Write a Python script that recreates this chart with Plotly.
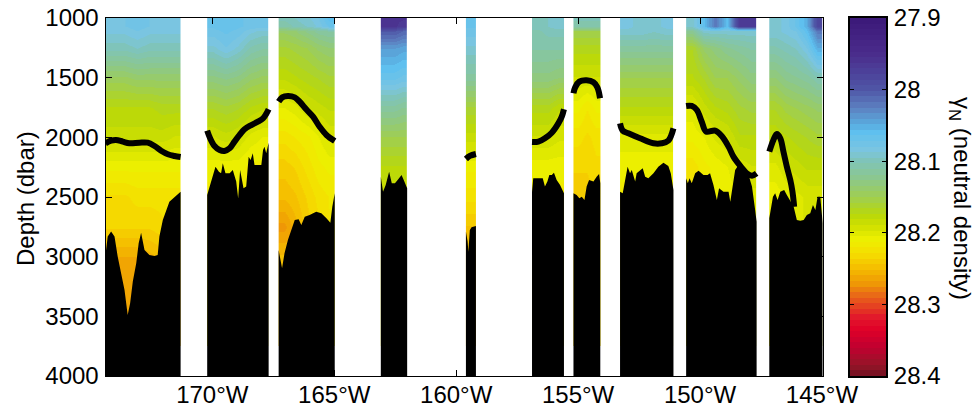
import plotly.graph_objects as go
import numpy as np

depth_levels = [1000, 1070, 1110, 1250, 1500, 1750, 2000, 2250, 2500, 2750, 3000, 3500]

seg_bounds = [(-174.38, -171.30), (-170.21, -167.69), (-167.28, -164.98), (-163.09, -162.01), (-159.60, -159.19),
              (-156.89, -155.58), (-155.19, -154.09), (-153.28, -151.09), (-150.57, -147.68), (-147.16, -144.97)]

density_1 = [
    [28.085, 28.08, 28.075, 28.08, 28.085, 28.08],
    [28.085, 28.08, 28.075, 28.08, 28.085, 28.08],
    [28.085, 28.085, 28.08, 28.085, 28.085, 28.085],
    [28.10, 28.10, 28.095, 28.10, 28.10, 28.10],
    [28.145, 28.145, 28.14, 28.14, 28.14, 28.14],
    [28.175, 28.175, 28.175, 28.175, 28.17, 28.17],
    [28.185, 28.185, 28.185, 28.185, 28.185, 28.19],
    [28.21, 28.21, 28.21, 28.21, 28.21, 28.21],
    [28.23, 28.23, 28.225, 28.225, 28.225, 28.225],
    [28.235, 28.235, 28.235, 28.235, 28.23, 28.23],
    [28.26, 28.26, 28.26, 28.255, 28.25, 28.24],
    [28.265, 28.265, 28.265, 28.26, 28.25, 28.25],
]
density_2 = [
    [28.07, 28.065, 28.07, 28.075, 28.075],
    [28.07, 28.065, 28.07, 28.075, 28.075],
    [28.075, 28.07, 28.075, 28.085, 28.09],
    [28.09, 28.08, 28.09, 28.105, 28.11],
    [28.13, 28.125, 28.13, 28.14, 28.145],
    [28.165, 28.16, 28.165, 28.175, 28.18],
    [28.19, 28.185, 28.19, 28.20, 28.205],
    [28.21, 28.21, 28.21, 28.215, 28.215],
    [28.215, 28.215, 28.215, 28.22, 28.22],
    [28.22, 28.22, 28.22, 28.22, 28.22],
    [28.22, 28.22, 28.22, 28.22, 28.22],
    [28.22, 28.22, 28.22, 28.22, 28.22],
]
density_3 = [
    [28.10, 28.095, 28.09, 28.08, 28.06],
    [28.11, 28.10, 28.095, 28.085, 28.07],
    [28.14, 28.135, 28.125, 28.115, 28.11],
    [28.16, 28.155, 28.15, 28.14, 28.135],
    [28.18, 28.175, 28.17, 28.165, 28.16],
    [28.205, 28.20, 28.19, 28.185, 28.18],
    [28.225, 28.22, 28.215, 28.205, 28.195],
    [28.24, 28.235, 28.225, 28.215, 28.21],
    [28.25, 28.245, 28.235, 28.225, 28.22],
    [28.27, 28.255, 28.24, 28.23, 28.22],
    [28.25, 28.25, 28.24, 28.23, 28.22],
    [28.25, 28.25, 28.24, 28.23, 28.22],
]
density_4 = [
    [27.96, 27.96, 27.96],
    [27.96, 27.96, 27.97],
    [28.00, 28.00, 28.01],
    [28.04, 28.04, 28.045],
    [28.07, 28.07, 28.075],
    [28.115, 28.115, 28.12],
    [28.15, 28.15, 28.15],
    [28.175, 28.175, 28.175],
    [28.19, 28.19, 28.19],
    [28.20, 28.20, 28.20],
    [28.20, 28.20, 28.20],
    [28.20, 28.20, 28.20],
]
density_5 = [
    [28.07, 28.07],
    [28.07, 28.07],
    [28.075, 28.075],
    [28.09, 28.09],
    [28.115, 28.115],
    [28.16, 28.16],
    [28.185, 28.185],
    [28.21, 28.21],
    [28.225, 28.225],
    [28.245, 28.245],
    [28.25, 28.25],
    [28.25, 28.25],
]
density_6 = [
    [28.10, 28.095, 28.09],
    [28.10, 28.095, 28.09],
    [28.105, 28.10, 28.10],
    [28.11, 28.11, 28.11],
    [28.13, 28.13, 28.135],
    [28.17, 28.17, 28.18],
    [28.19, 28.19, 28.195],
    [28.21, 28.21, 28.21],
    [28.215, 28.215, 28.215],
    [28.215, 28.215, 28.215],
    [28.215, 28.215, 28.215],
    [28.215, 28.215, 28.215],
]
density_7 = [
    [28.10, 28.10, 28.10],
    [28.11, 28.11, 28.11],
    [28.15, 28.15, 28.15],
    [28.17, 28.17, 28.17],
    [28.19, 28.19, 28.19],
    [28.21, 28.22, 28.21],
    [28.225, 28.23, 28.225],
    [28.235, 28.235, 28.23],
    [28.24, 28.24, 28.235],
    [28.24, 28.24, 28.235],
    [28.24, 28.24, 28.235],
    [28.24, 28.24, 28.235],
]
density_8 = [
    [28.085, 28.09, 28.09, 28.085],
    [28.085, 28.09, 28.09, 28.085],
    [28.09, 28.09, 28.095, 28.09],
    [28.115, 28.115, 28.115, 28.115],
    [28.15, 28.15, 28.15, 28.15],
    [28.175, 28.175, 28.175, 28.175],
    [28.20, 28.20, 28.20, 28.20],
    [28.21, 28.21, 28.21, 28.21],
    [28.215, 28.215, 28.215, 28.215],
    [28.215, 28.215, 28.215, 28.215],
    [28.215, 28.215, 28.215, 28.215],
    [28.215, 28.215, 28.215, 28.215],
]
density_9 = [
    [28.09, 28.06, 28.02, 28.06, 27.97, 27.97],
    [28.09, 28.06, 28.02, 28.06, 27.97, 27.97],
    [28.12, 28.09, 28.09, 28.09, 28.09, 28.09],
    [28.165, 28.14, 28.13, 28.12, 28.115, 28.11],
    [28.175, 28.165, 28.15, 28.15, 28.14, 28.13],
    [28.20, 28.185, 28.175, 28.17, 28.16, 28.155],
    [28.21, 28.205, 28.195, 28.19, 28.175, 28.175],
    [28.225, 28.215, 28.21, 28.205, 28.195, 28.19],
    [28.22, 28.215, 28.21, 28.21, 28.205, 28.20],
    [28.22, 28.215, 28.21, 28.21, 28.205, 28.20],
    [28.22, 28.215, 28.21, 28.21, 28.205, 28.20],
    [28.22, 28.215, 28.21, 28.21, 28.205, 28.20],
]
density_10 = [
    [28.09, 28.085, 28.07, 28.05, 27.98],
    [28.09, 28.085, 28.07, 28.05, 27.98],
    [28.09, 28.085, 28.08, 28.06, 28.02],
    [28.105, 28.10, 28.095, 28.08, 28.05],
    [28.135, 28.125, 28.12, 28.115, 28.105],
    [28.165, 28.155, 28.15, 28.145, 28.14],
    [28.18, 28.175, 28.17, 28.165, 28.16],
    [28.20, 28.19, 28.185, 28.18, 28.18],
    [28.21, 28.205, 28.20, 28.195, 28.195],
    [28.21, 28.205, 28.20, 28.195, 28.195],
    [28.21, 28.205, 28.20, 28.195, 28.195],
    [28.21, 28.205, 28.20, 28.195, 28.195],
]
density_segments = [density_1, density_2, density_3, density_4, density_5,
                    density_6, density_7, density_8, density_9, density_10]

bathy_lon_1 = [-174.38, -174.29, -174.15, -174.01, -173.88, -173.74, -173.60, -173.47, -173.37, -173.26, -173.12, -173.02, -172.92, -172.78, -172.58, -172.37, -172.24, -172.17, -172.03, -171.76, -171.55, -171.30]
bathy_dep_1 = [2986, 2832, 2790, 2832, 2999, 3139, 3279, 3489, 3391, 3209, 3056, 2888, 2799, 2944, 2986, 2994, 2986, 2832, 2693, 2539, 2497, 2455]
bathy_lon_2 = [-170.21, -170.11, -169.98, -169.87, -169.73, -169.64, -169.57, -169.46, -169.29, -169.16, -169.02, -168.94, -168.86, -168.72, -168.61, -168.51, -168.43, -168.34, -168.27, -167.99, -167.92, -167.86, -167.79, -167.69]
bathy_dep_2 = [2483, 2413, 2343, 2246, 2288, 2302, 2218, 2302, 2302, 2274, 2371, 2511, 2274, 2427, 2413, 2162, 2190, 2134, 2232, 2232, 2106, 2078, 2134, 2045]
bathy_lon_3 = [-167.28, -167.21, -167.14, -167.04, -166.90, -166.76, -166.62, -166.46, -166.35, -166.21, -166.01, -165.74, -165.53, -165.32, -165.16, -165.08, -164.98]
bathy_dep_3 = [2944, 3028, 3098, 2972, 2860, 2776, 2693, 2687, 2734, 2665, 2651, 2623, 2637, 2679, 2715, 2581, 2469]
bathy_lon_4 = [-163.09, -163.00, -162.89, -162.75, -162.64, -162.51, -162.40, -162.24, -162.15, -162.01]
bathy_dep_4 = [2330, 2455, 2399, 2288, 2385, 2385, 2357, 2316, 2357, 2427]
bathy_lon_5 = [-159.60, -159.53, -159.50, -159.44, -159.37, -159.19]
bathy_dep_5 = [2790, 2874, 2958, 2776, 2754, 2743]
bathy_lon_6 = [-156.89, -156.84, -156.70, -156.45, -156.36, -156.26, -156.18, -156.08, -155.99, -155.88, -155.74, -155.60, -155.58]
bathy_dep_6 = [2455, 2343, 2343, 2343, 2413, 2371, 2316, 2316, 2296, 2357, 2399, 2464, 2469]
bathy_lon_7 = [-155.19, -155.06, -154.95, -154.85, -154.74, -154.65, -154.55, -154.37, -154.24, -154.14, -154.09]
bathy_dep_7 = [2469, 2483, 2511, 2497, 2525, 2413, 2357, 2371, 2330, 2307, 2385]
bathy_lon_8 = [-153.28, -153.17, -153.07, -152.97, -152.87, -152.80, -152.66, -152.60, -152.35, -152.25, -152.12, -151.91, -151.71, -151.50, -151.30, -151.20, -151.09]
bathy_dep_8 = [2455, 2469, 2357, 2246, 2302, 2274, 2371, 2302, 2260, 2330, 2343, 2302, 2246, 2212, 2240, 2302, 2441]
bathy_lon_9 = [-150.57, -150.50, -150.43, -150.34, -150.20, -150.06, -149.86, -149.69, -149.59, -149.45, -149.31, -149.22, -149.04, -148.83, -148.76, -148.67, -148.56, -148.42, -148.22, -148.01, -147.87, -147.74, -147.68]
bathy_dep_9 = [2343, 2385, 2343, 2385, 2302, 2279, 2316, 2316, 2302, 2399, 2525, 2427, 2455, 2455, 2539, 2413, 2274, 2232, 2246, 2316, 2413, 2609, 2707]
bathy_lon_10 = [-147.16, -147.09, -147.01, -146.92, -146.82, -146.71, -146.55, -146.44, -146.33, -146.16, -146.03, -145.89, -145.75, -145.62, -145.48, -145.37, -145.27, -145.18, -145.07, -144.97]
bathy_dep_10 = [2679, 2581, 2497, 2469, 2525, 2455, 2441, 2483, 2525, 2581, 2693, 2698, 2693, 2651, 2637, 2567, 2609, 2497, 2497, 2720]
bathy_lons = [bathy_lon_1, bathy_lon_2, bathy_lon_3, bathy_lon_4, bathy_lon_5, bathy_lon_6, bathy_lon_7, bathy_lon_8, bathy_lon_9, bathy_lon_10]
bathy_deps = [bathy_dep_1, bathy_dep_2, bathy_dep_3, bathy_dep_4, bathy_dep_5, bathy_dep_6, bathy_dep_7, bathy_dep_8, bathy_dep_9, bathy_dep_10]

iso_lon_1 = [-174.38, -174.15, -173.95, -173.67, -173.40, -172.99, -172.65, -172.37, -172.10, -171.82, -171.55, -171.30]
iso_dep_1 = [2050, 2028, 2022, 2036, 2050, 2045, 2045, 2073, 2112, 2142, 2156, 2165]
iso_lon_2 = [-170.21, -170.09, -169.91, -169.70, -169.50, -169.29, -169.09, -168.88, -168.68, -168.40, -168.13, -167.92, -167.79, -167.69]
iso_dep_2 = [1944, 2008, 2073, 2106, 2114, 2092, 2036, 1980, 1933, 1897, 1869, 1841, 1804, 1765]
iso_lon_3 = [-167.28, -167.13, -166.90, -166.62, -166.42, -166.15, -165.87, -165.60, -165.32, -164.98]
iso_dep_3 = [1701, 1665, 1654, 1665, 1701, 1765, 1827, 1911, 1980, 2031]
iso_lon_5 = [-159.60, -159.44, -159.19]
iso_dep_5 = [2181, 2156, 2140]
iso_lon_6 = [-156.89, -156.63, -156.36, -156.08, -155.81, -155.67, -155.58]
iso_dep_6 = [2039, 2036, 2008, 1961, 1883, 1827, 1765]
iso_lon_7 = [-155.19, -155.12, -154.95, -154.65, -154.37, -154.21, -154.10]
iso_dep_7 = [1631, 1581, 1533, 1522, 1539, 1581, 1673]
iso_lon_8 = [-153.28, -153.17, -152.94, -152.46, -151.91, -151.57, -151.30, -151.09]
iso_dep_8 = [1883, 1944, 1966, 2008, 2050, 2050, 2028, 1925]
iso_lon_9 = [-150.57, -150.34, -150.13, -149.93, -149.75, -149.38, -149.11, -148.83, -148.63, -148.35, -148.08, -147.87, -147.68]
iso_dep_9 = [1737, 1737, 1771, 1869, 1952, 1944, 1989, 2078, 2162, 2240, 2302, 2321, 2302]
iso_lon_10 = [-147.16, -146.99, -146.85, -146.71, -146.58, -146.44, -146.30, -146.21, -146.14]
iso_dep_10 = [2120, 2022, 1972, 2008, 2120, 2246, 2357, 2455, 2581]
iso_lons = [iso_lon_1, iso_lon_2, iso_lon_3, iso_lon_5, iso_lon_6, iso_lon_7, iso_lon_8, iso_lon_9, iso_lon_10]
iso_deps = [iso_dep_1, iso_dep_2, iso_dep_3, iso_dep_5, iso_dep_6, iso_dep_7, iso_dep_8, iso_dep_9, iso_dep_10]

lon_ticks = [-170, -165, -160, -155, -150, -145]
lon_labels = ["170°W", "165°W", "160°W", "155°W", "150°W", "145°W"]
depth_ticks = [1000, 1500, 2000, 2500, 3000, 3500, 4000]
cbar_ticks = [27.9, 28.0, 28.1, 28.2, 28.3, 28.4]
cbar_labels = ["27.9", "28", "28.1", "28.2", "28.3", "28.4"]

color_pos = [0, .1, .2, .25, .3, .32, .37, .4, .45, .5, .55, .58, .62, .66, .7, .74, .78, .81, .84, .87, .92, .97, 1]
color_hex = ["#3b1878", "#4a2c8c", "#4f56a6", "#5c80c0", "#5aaee0", "#5fc0ef", "#7cc5e0", "#7fc4b8", "#8cc78c", "#9fce52",
             "#b9d80a", "#cfe000", "#eef000", "#f5dc00", "#f5bc00", "#ef9a05", "#e8601a", "#e43c22", "#e2152c", "#e00028",
             "#c00030", "#951528", "#701020"]

ZMIN, ZMAX = 27.9, 28.4
STEPS = 64
rgb = np.array([[int(h[i:i + 2], 16) for i in (1, 3, 5)] for h in color_hex], float)
colorscale = []
for i in range(STEPS):
    t = (i + .5) / STEPS
    c = [int(round(np.interp(t, color_pos, rgb[:, k]))) for k in range(3)]
    col = f"rgb({c[0]},{c[1]},{c[2]})"
    colorscale += [[i / STEPS, col], [(i + 1) / STEPS, col]]

FONT = "Liberation Sans, Arial, sans-serif"
FS = 24
fig = go.Figure()

for (lon0, lon1), rows in zip(seg_bounds, density_segments):
    edges = np.linspace(lon0, lon1, len(rows[0]) + 1)
    fig.add_trace(go.Heatmap(x=edges, y=depth_levels, z=rows, zmin=ZMIN, zmax=ZMAX, colorscale=colorscale,
                             zsmooth="best", showscale=False, hoverinfo="skip"))
for lons, deps in zip(bathy_lons, bathy_deps):
    fig.add_trace(go.Scatter(x=lons + [lons[-1], lons[0]], y=deps + [4000, 4000], mode="lines", fill="toself",
                             fillcolor="black", line=dict(width=0, color="black"), hoverinfo="skip", showlegend=False))
for lons, deps in zip(iso_lons, iso_deps):
    fig.add_trace(go.Scatter(x=lons, y=deps, mode="lines", line=dict(color="black", width=6, shape="spline"),
                             hoverinfo="skip", showlegend=False))

cbar_levels = [ZMIN + (ZMAX - ZMIN) * (i + .5) / STEPS for i in range(STEPS)]
fig.add_trace(go.Heatmap(x=[0, 1], y=cbar_levels, z=[[v, v] for v in cbar_levels], zmin=ZMIN, zmax=ZMAX,
                         colorscale=colorscale, showscale=False, hoverinfo="skip", xaxis="x2", yaxis="y2"))

W, H = 977, 409
L, R, T, B = 105.5, 822.7, 18, 376
CL, CR = 849.5, 886

axis_common = dict(showline=True, linecolor="black", linewidth=1, mirror="ticks", ticks="inside", tickcolor="black",
                   showgrid=False, zeroline=False, automargin=False, tickfont=dict(family=FONT, size=FS, color="black"))
fig.update_layout(
    width=W, height=H, margin=dict(l=0, r=0, t=0, b=0, autoexpand=False), paper_bgcolor="white", plot_bgcolor="white", showlegend=False,
    font=dict(family=FONT, size=FS, color="black"),
    xaxis=dict(domain=[L / W, R / W], range=[-174.38, -144.97], tickvals=lon_ticks, ticktext=lon_labels, ticklen=6,
               ticklabelstandoff=-3, **axis_common),
    yaxis=dict(domain=[1 - B / H, 1 - T / H], range=[4000, 1000], tickvals=depth_ticks, ticklen=6, tickformat="d",
               ticklabelstandoff=1, **axis_common),
    xaxis2=dict(domain=[CL / W, CR / W], range=[0, 1], anchor="y2", showticklabels=False, showline=True, linecolor="black",
                linewidth=2, mirror=True, ticks="", showgrid=False, zeroline=False, automargin=False),
    yaxis2=dict(domain=[1 - B / H, 1 - T / H], range=[28.4, 27.9], anchor="x2", side="right", showline=True,
                linecolor="black", linewidth=2, mirror="ticks", ticks="inside", ticklen=4, tickcolor="black",
                tickvals=cbar_ticks, ticktext=cbar_labels, showgrid=False, zeroline=False, automargin=False,
                ticklabelstandoff=1, tickfont=dict(family=FONT, size=FS, color="black")),
    annotations=[
        dict(text="Depth (dbar)", xref="paper", yref="paper", x=25 / W, y=1 - 199 / H, textangle=-90, showarrow=False,
             xanchor="center", yanchor="middle", font=dict(family=FONT, size=24, color="black")),
        dict(text="γ<sub>N</sub> (neutral density)", xref="paper", yref="paper", x=961 / W, y=1 - 198 / H, textangle=90,
             showarrow=False, xanchor="center", yanchor="middle", font=dict(family=FONT, size=24, color="black")),
    ],
)
fig.write_html("out.html", config={"displayModeBar": False},
               post_script="document.body.style.margin='0';document.body.style.overflow='hidden';")
